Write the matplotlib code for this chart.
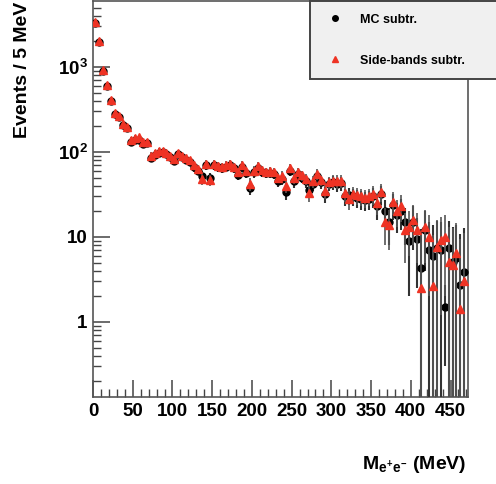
import matplotlib.pyplot as plt
import numpy as np
from matplotlib.lines import Line2D
from matplotlib.ticker import MultipleLocator, LogLocator, FixedLocator, FixedFormatter, NullFormatter

plt.rcParams['font.family'] = ['Liberation Sans', 'DejaVu Sans']
plt.rcParams['font.weight'] = 'bold'
plt.rcParams['mathtext.fontset'] = 'custom'
plt.rcParams['mathtext.rm'] = 'Liberation Sans:bold'
plt.rcParams['mathtext.it'] = 'Liberation Sans:bold'
plt.rcParams['mathtext.bf'] = 'Liberation Sans:bold'

# 5 MeV bins, centres
bin_width = 5
mass = np.arange(bin_width / 2, 470, bin_width)

# background subtracted with MC
mc_counts = [3300, 1950, 900, 600, 400, 280, 260, 210, 190, 132,
             140, 140, 125, 128, 85, 92, 98, 100, 95, 88,
             78, 95, 88, 80, 76, 66, 60, 52, 70, 50,
             70, 66, 64, 67, 70, 64, 54, 66, 57, 38,
             58, 65, 58, 56, 57, 55, 46, 48, 34, 60,
             45, 55, 50, 45, 36, 42, 52, 44, 32, 42,
             44, 42, 43, 30, 31, 30, 29, 28, 27, 28,
             30, 23, 32, 20, 15, 24, 18, 20, 15, 9,
             15, 9.5, 4.3, 12, 7.0, 5.9, 7.4, 7.0, 1.5, 7.5,
             5.1, 5.7, 2.7, 3.9]
mc_err = [60, 45, 30, 25, 20, 17, 16, 15, 14, 12,
          12, 12, 11, 11, 9, 9, 9, 9, 9, 8,
          8, 8, 8, 8, 8, 8, 7, 7, 8, 7,
          8, 8, 8, 8, 8, 8, 7, 8, 7, 7,
          8, 8, 7, 7, 7, 7, 7, 7, 7, 8,
          7, 7, 7, 7, 7, 7, 8, 7, 7, 7,
          8, 8, 8, 7, 7, 7, 7, 7, 7, 7,
          8, 7, 8, 7, 7, 8, 7, 8, 7, 7,
          8, 7, 8, 8, 8, 8, 8, 8, 1.2, 8,
          8, 8, 8, 9]

# background subtracted with side bands
sb_counts = [3400, 2000, 920, 610, 410, 290, 265, 215, 195, 138,
             145, 148, 130, 132, 90, 96, 102, 103, 98, 90,
             82, 98, 90, 84, 80, 70, 63, 48, 73, 47,
             73, 68, 66, 70, 72, 66, 58, 70, 60, 42,
             60, 69, 61, 58, 60, 58, 50, 52, 40, 64,
             49, 58, 53, 48, 33, 45, 55, 47, 35, 44,
             46, 45, 46, 33, 28, 32, 31, 30, 29, 30,
             32, 25, 34, 15, 14, 26, 20, 23, 12, 13,
             16, 12, 2.5, 13, 10, 2.65, 7.7, 9.2, 10, 5.1,
             4.7, 6.5, 1.42, 3.0]
sb_err = [60, 45, 30, 25, 20, 17, 16, 15, 14, 12,
          12, 12, 11, 11, 9, 9, 9, 9, 9, 8,
          8, 8, 8, 8, 8, 8, 7, 7, 8, 7,
          8, 8, 8, 8, 8, 8, 7, 8, 7, 7,
          8, 8, 7, 7, 7, 7, 7, 7, 7, 8,
          7, 7, 7, 7, 7, 7, 8, 7, 7, 7,
          8, 8, 8, 7, 7, 7, 7, 7, 7, 7,
          8, 7, 8, 7, 7, 8, 7, 8, 7, 7,
          8, 7, 8, 8, 8, 8, 8, 8, 8, 8,
          8, 8, 8, 8]

y_ticks = [1, 10, 100, 1000]
y_tick_labels = ['1', '10', r'$10^{2}$', r'$10^{3}$']

fig = plt.figure(figsize=(4.96, 4.84), dpi=100)
ax = fig.add_axes([93 / 496, 1 - 397 / 484, 375 / 496, 396 / 484])

ax.errorbar(mass, mc_counts, yerr=mc_err, fmt='o', color='black', ms=5,
            ecolor='#333333', elinewidth=1.5, capsize=0, zorder=3)
ax.errorbar(mass, sb_counts, yerr=sb_err, fmt='^', color='#ee3324', ms=5.5,
            ecolor='#555555', elinewidth=1.2, capsize=0, zorder=4)

ax.set_yscale('log')
ax.set_xlim(0, 472)
ax.set_ylim(0.131, 5970)

ax.xaxis.set_major_locator(MultipleLocator(50))
ax.xaxis.set_minor_locator(MultipleLocator(10))
ax.yaxis.set_major_locator(FixedLocator(y_ticks))
ax.yaxis.set_major_formatter(FixedFormatter(y_tick_labels))
ax.yaxis.set_minor_locator(LogLocator(base=10, subs=np.arange(2, 10)))
ax.yaxis.set_minor_formatter(NullFormatter())

ax.tick_params(which='major', direction='in', length=12, width=1.1,
               color='#444444', labelsize=13.5, pad=4)
ax.tick_params(which='minor', direction='in', length=6, width=1.0,
               color='#444444')
ax.tick_params(top=False, right=False, which='both')
for lab in ax.get_xticklabels() + ax.get_yticklabels():
    lab.set_fontweight('bold')

for sp in ax.spines.values():
    sp.set_color('#555555')
    sp.set_linewidth(1.2)

ax.set_xlabel(r'$M_{e^{+}e^{-}}$ (MeV)', fontsize=14, fontweight='bold')
ax.xaxis.set_label_coords(1.0 - 2 / 375, -0.145)
ax.xaxis.label.set_ha('right')
ax.xaxis.label.set_va('top')

ax.set_ylabel('Events / 5 MeV', fontsize=14, fontweight='bold')
ax.yaxis.set_label_coords(-0.165, (397 - 138) / 396)
ax.yaxis.label.set_ha('left')

handles = [Line2D([], [], ls='', marker='o', color='black', ms=4),
           Line2D([], [], ls='', marker='^', color='#ee3324', ms=4)]
leg = fig.legend(handles=handles, labels=['MC subtr.', 'Side-bands subtr.'],
                 loc='lower left', bbox_to_anchor=(310 / 496, 1 - 79 / 484, 0.5, 0.3),
                 mode='expand', fancybox=False, framealpha=1, borderpad=1.0,
                 borderaxespad=0, handlelength=2.0, handletextpad=1.0,
                 labelspacing=2.3, prop={'size': 9, 'weight': 'bold'})
leg.get_frame().set_facecolor('#f0f0f0')
leg.get_frame().set_edgecolor('#444444')
leg.get_frame().set_linewidth(1.4)

fig.savefig('out.png', dpi=100)
